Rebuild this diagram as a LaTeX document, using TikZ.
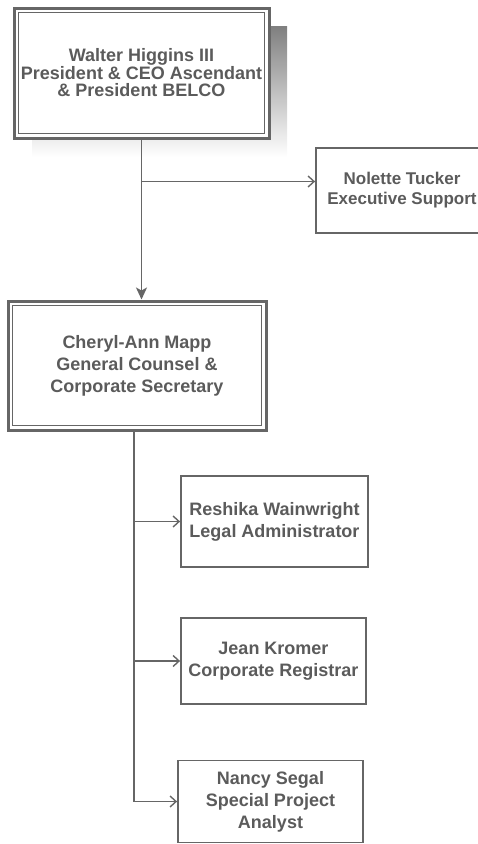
\documentclass[tikz,border=0pt]{standalone}
\usepackage{fontspec}
\setmainfont{Liberation Sans}
\usetikzlibrary{arrows.meta}
\definecolor{ink}{HTML}{5B5B5B}
\definecolor{wire}{HTML}{666666}
\definecolor{shade}{HTML}{E2E2E2}
\tikzset{
  box/.style={draw=wire, line width=1.8pt, fill=white, text=ink, align=center,
    font=\bfseries\fontsize{18}{22}\selectfont, inner sep=0pt},
  bigbox/.style={box, line width=3pt},
  link/.style={draw=wire, line width=1.6pt},
  barb/.style={link, -{Straight Barb[length=6pt,width=11pt,line width=1.4pt]}},
  mainarrow/.style={link, -{Stealth[length=12pt,width=11pt,inset=3pt]}}
}
\begin{document}
\begin{tikzpicture}[x=1pt,y=-1pt]
\useasboundingbox (0,0) rectangle (478,844);
\clip (0,0) rectangle (478,844);
% shadow of the top box
\fill[shade] (32,26) rectangle (287,157);
% nodes
\node[bigbox, minimum width=255pt, minimum height=130pt,
  font=\bfseries\fontsize{18}{17.5}\selectfont] (w) at (141.5,73)
  {Walter Higgins III\\President \& CEO Ascendant\\\& President BELCO};
\draw[wire, line width=1.1pt] ([xshift=6pt,yshift=-6pt]w.north west) rectangle ([xshift=-6pt,yshift=6pt]w.south east);
\node[box, minimum width=172pt, minimum height=85pt,
  font=\bfseries\fontsize{17}{20}\selectfont] (n) at (402,190.5)
  {Nolette Tucker\\Executive Support};
\node[bigbox, minimum width=258pt, minimum height=129pt] (c) at (137,365.5)
  {Cheryl-Ann Mapp\\General Counsel \&\\Corporate Secretary};
\draw[wire, line width=1.1pt] ([xshift=6pt,yshift=-6pt]c.north west) rectangle ([xshift=-6pt,yshift=6pt]c.south east);
\node[box, minimum width=187pt, minimum height=91pt] (r) at (274.5,521.5)
  {Reshika Wainwright\\Legal Administrator};
\node[box, minimum width=185pt, minimum height=86pt] (j) at (273.5,661)
  {Jean Kromer\\Corporate Registrar};
\node[box, minimum width=185pt, minimum height=82pt] (s) at (270.5,801.5)
  {Nancy Segal\\Special Project\\Analyst};
% connectors
\coordinate (wb) at ([yshift=-42pt]w.south);
\draw[mainarrow] (w.south) -- (w.south |- c.north);
\draw[barb] (wb) -- (wb -| n.west);
\coordinate (cb) at ([xshift=-3pt]c.south);
\draw[link] (cb) -- (cb |- s.west);
\draw[barb] (cb |- r.west) -- (r.west);
\draw[barb] (cb |- j.west) -- (j.west);
\draw[barb] (cb |- s.west) -- (s.west);
\end{tikzpicture}
\end{document}
